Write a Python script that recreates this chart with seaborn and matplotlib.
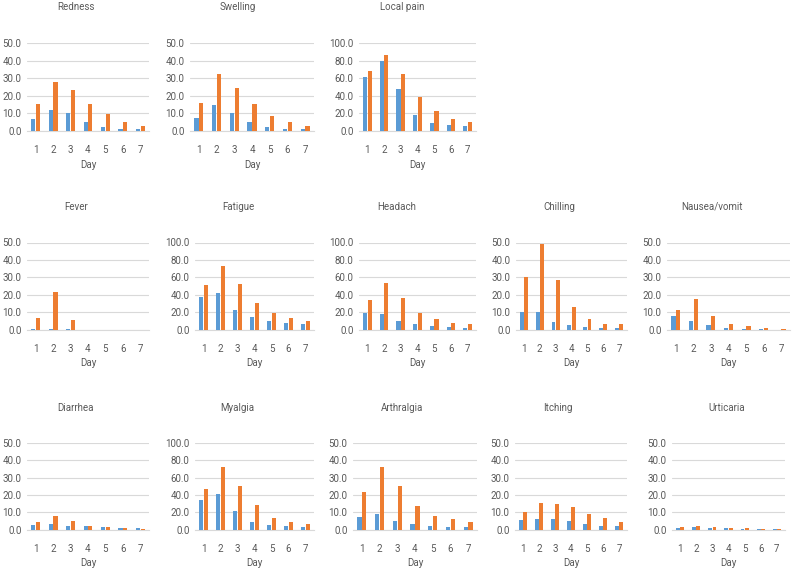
import matplotlib
matplotlib.use("Agg")
import matplotlib.pyplot as plt
import seaborn as sns
import pandas as pd

sns.set_theme(style="white")
plt.rcParams['font.family'] = ['Liberation Sans Narrow', 'Roboto', 'DejaVu Sans']

days = ["1", "2", "3", "4", "5", "6", "7"]
groups = ["Group A", "Group B"]

redness_a = [6.5, 12.0, 10.0, 5.0, 2.2, 1.2, 1.0]
redness_b = [15.0, 28.0, 23.0, 15.5, 9.3, 5.0, 2.8]
swelling_a = [7.5, 14.5, 10.0, 5.0, 2.0, 1.0, 0.8]
swelling_b = [16.0, 32.5, 24.5, 15.5, 8.5, 5.0, 2.7]
localpain_a = [61.0, 80.0, 48.0, 18.5, 8.5, 6.0, 5.0]
localpain_b = [68.5, 87.0, 65.0, 38.0, 22.0, 13.0, 10.0]
fever_a = [0.3, 0.5, 0.2, 0.0, 0.0, 0.0, 0.0]
fever_b = [6.5, 21.5, 5.5, 0.1, 0.0, 0.0, 0.0]
fatigue_a = [37.5, 42.5, 23.0, 14.0, 9.5, 7.5, 7.0]
fatigue_b = [51.5, 72.5, 52.0, 31.0, 19.5, 13.0, 10.5]
headach_a = [19.0, 18.0, 10.5, 6.0, 4.5, 3.0, 2.5]
headach_b = [34.5, 53.0, 36.0, 19.5, 12.0, 8.0, 6.5]
chilling_a = [10.0, 10.0, 4.5, 2.5, 1.5, 1.0, 1.0]
chilling_b = [30.5, 49.0, 28.5, 13.0, 6.0, 3.5, 3.0]
nausea_a = [8.0, 5.0, 2.5, 1.2, 0.5, 0.2, 0.1]
nausea_b = [11.5, 17.5, 8.0, 3.2, 2.0, 1.0, 0.5]
diarrhea_a = [2.8, 3.5, 2.2, 2.0, 1.3, 1.0, 0.7]
diarrhea_b = [4.5, 8.0, 5.0, 2.2, 1.6, 0.8, 0.5]
myalgia_a = [34.0, 41.5, 22.0, 9.0, 5.5, 4.0, 3.0]
myalgia_b = [47.0, 72.5, 50.0, 28.0, 13.5, 8.5, 6.0]
arthralgia_a = [7.5, 9.0, 5.0, 3.0, 2.0, 1.7, 1.5]
arthralgia_b = [21.5, 36.0, 25.0, 13.5, 8.0, 6.0, 4.5]
itching_a = [5.5, 6.3, 6.3, 5.0, 3.2, 2.0, 2.0]
itching_b = [10.0, 15.5, 14.5, 12.8, 9.3, 6.5, 4.5]
urticaria_a = [1.0, 1.5, 1.2, 0.8, 0.5, 0.5, 0.5]
urticaria_b = [1.5, 2.2, 1.8, 1.2, 0.7, 0.6, 0.5]

titles = ["Redness", "Swelling", "Local pain",
          "Fever", "Fatigue", "Headach", "Chilling", "Nausea/vomit",
          "Diarrhea", "Myalgia", "Arthralgia", "Itching", "Urticaria"]
series = [(redness_a, redness_b), (swelling_a, swelling_b), (localpain_a, localpain_b),
          (fever_a, fever_b), (fatigue_a, fatigue_b), (headach_a, headach_b),
          (chilling_a, chilling_b), (nausea_a, nausea_b),
          (diarrhea_a, diarrhea_b), (myalgia_a, myalgia_b), (arthralgia_a, arthralgia_b),
          (itching_a, itching_b), (urticaria_a, urticaria_b)]
ymax = [50, 50, 100, 50, 100, 100, 50, 50, 50, 100, 50, 50, 50]

# layout in pixels
W, H = 792, 570
row_geo = [(43.3, 130.7, 7, 148, 165), (242.5, 329.7, 207, 347, 363), (442.7, 529.7, 408, 547, 563)]
col_lr_row1 = [(27, 149, 76), (190, 314, 238), (359, 476, 402)]
col_lr_row2 = [(27, 149, 76), (195, 314, 238), (359, 476, 397), (516, 627, 559), (667, 790, 712)]
col_lr_row3 = [(27, 149, 76), (195, 314, 237), (353, 477, 402), (515, 627, 558), (672, 785, 727)]
layout = []
for r, cols in enumerate([col_lr_row1, col_lr_row2, col_lr_row3]):
    for c in cols:
        layout.append((r, c))

blue = "#5B9BD5"
orange = "#ED7D31"
grid_c = "#D9D9D9"
text_c = "#595959"

fig = plt.figure(figsize=(W / 100, H / 100), dpi=100)

for i, title in enumerate(titles):
    r, (lx, rx, tx) = layout[i]
    top, bot, ty, ticky, dayy = row_geo[r]
    ax = fig.add_axes([lx / W, 1 - bot / H, (rx - lx) / W, (bot - top) / H])
    a, b = series[i]
    df = pd.DataFrame({
        "Day": days * 2,
        "value": list(a) + list(b),
        "group": [groups[0]] * 7 + [groups[1]] * 7,
    })
    sns.barplot(data=df, x="Day", y="value", hue="group", hue_order=groups, order=days,
                palette=[blue, orange], saturation=1, width=0.54, gap=0.1,
                errorbar=None, linewidth=0, legend=False, ax=ax, zorder=3)
    ax.set_xlim(-0.5, 6.5)
    ax.set_ylim(0, ymax[i])
    step = ymax[i] / 5
    ticks = [step * k for k in range(6)]
    ax.set_yticks(ticks)
    ax.set_yticklabels([f"{t:.1f}" for t in ticks])
    ax.yaxis.grid(True, color=grid_c, linewidth=0.8, zorder=0)
    ax.xaxis.grid(False)
    for s in ["top", "right", "left"]:
        ax.spines[s].set_visible(False)
    ax.spines["bottom"].set_color(grid_c)
    ax.spines["bottom"].set_linewidth(0.8)
    ax.tick_params(axis="both", length=0, labelsize=7, colors=text_c)
    ax.tick_params(axis="x", pad=10)
    ax.tick_params(axis="y", pad=4)
    ax.set_xlabel("")
    ax.set_ylabel("")
    ax.set_axisbelow(True)
    fig.text(tx / W, 1 - ty / H, title, ha="center", va="center", fontsize=7, color=text_c)
    fig.text(((lx + rx) / 2) / W, 1 - dayy / H, "Day", ha="center", va="center", fontsize=7, color=text_c)

fig.savefig("out.png", dpi=100, facecolor="white")
